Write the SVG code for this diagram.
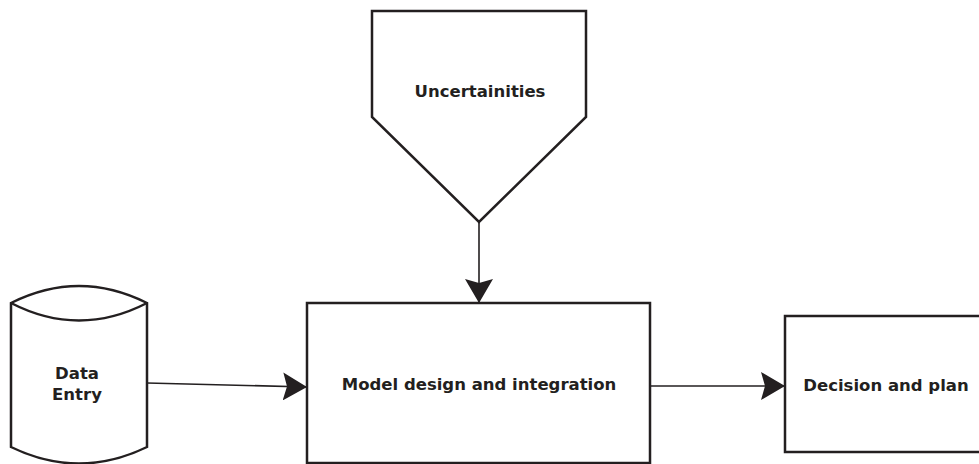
<svg xmlns="http://www.w3.org/2000/svg" width="979" height="464" viewBox="0 0 979 464">
<defs>
<style>
.shape{fill:#fff;stroke:#231f20;stroke-width:2.5;}
.conn{fill:none;stroke:#231f20;stroke-width:1.6;}
.lbl{font-family:"DejaVu Sans",Verdana,sans-serif;font-weight:bold;font-size:16.5px;fill:#231f20;text-anchor:middle;}
</style>
<marker id="arr" markerWidth="24" markerHeight="28" refX="24" refY="14" orient="auto" markerUnits="userSpaceOnUse">
<path d="M0,0 L24,14 L0,28 L4,14 Z" fill="#231f20"/>
</marker>
</defs>
<g id="connectors">
<path class="conn" d="M479,222 L479,303" marker-end="url(#arr)"/>
<path class="conn" d="M147,383 L307,387" marker-end="url(#arr)"/>
<path class="conn" d="M650,386 L785,386" marker-end="url(#arr)"/>
</g>
<g id="uncertainities">
<path class="shape" d="M372,11 L586,11 L586,117 L479,222 L372,117 Z"/>
<text class="lbl" x="480" y="97">Uncertainities</text>
</g>
<g id="data-entry">
<path class="shape" d="M11,303 Q79,269 147,303 L147,447 Q79,480 11,447 Z"/>
<path class="shape" style="fill:none" d="M11,303 Q79,338 147,303"/>
<text class="lbl" x="77" y="379">Data</text>
<text class="lbl" x="77" y="400">Entry</text>
</g>
<g id="model">
<rect class="shape" x="307" y="303" width="343" height="160"/>
<text class="lbl" x="479" y="390">Model design and integration</text>
</g>
<g id="decision">
<rect class="shape" x="785" y="316" width="200" height="136"/>
<text class="lbl" x="886" y="391">Decision and plan</text>
</g>
</svg>
